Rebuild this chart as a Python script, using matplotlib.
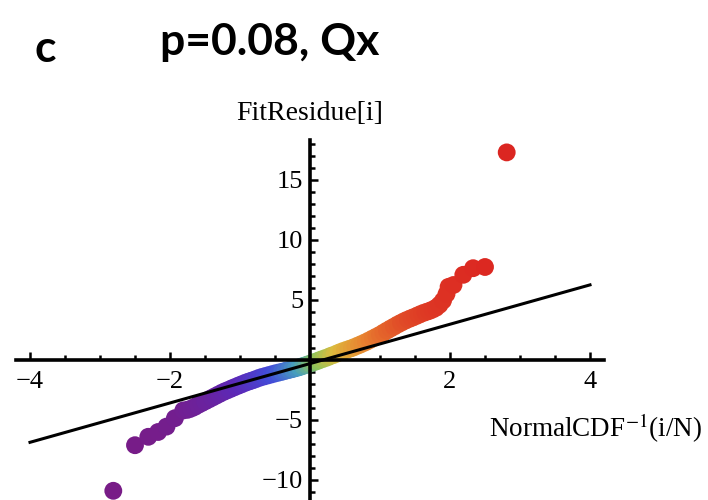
import math
import matplotlib
matplotlib.use("Agg")
import matplotlib.pyplot as plt
from matplotlib.colors import LinearSegmentedColormap
from matplotlib.ticker import FixedLocator, MultipleLocator

# theoretical normal quantiles vs. sorted fit residues
q_theory = [
    -2.81, -2.50, -2.31, -2.17, -2.05, -1.93, -1.81,
    -1.75, -1.70, -1.65, -1.60, -1.55, -1.50, -1.45, -1.40, -1.35, -1.30,
    -1.25, -1.20, -1.15, -1.10, -1.05, -1.00, -0.95, -0.90, -0.85, -0.80,
    -0.75, -0.70, -0.65, -0.60, -0.55, -0.50, -0.45, -0.40, -0.35, -0.30,
    -0.25, -0.20, -0.15, -0.10, -0.05, 0.00, 0.05, 0.10, 0.15, 0.20,
    0.25, 0.30, 0.35, 0.40, 0.45, 0.50, 0.55, 0.60, 0.65, 0.70,
    0.75, 0.80, 0.85, 0.90, 0.95, 1.00, 1.05, 1.10, 1.15, 1.20,
    1.25, 1.30, 1.35, 1.40, 1.45, 1.50, 1.55, 1.60, 1.65, 1.70,
    1.75, 1.80, 1.85,
    1.90, 1.95, 1.98, 2.05, 2.19, 2.33, 2.50, 2.81,
]
residue = [
    -10.9, -7.1, -6.4, -6.0, -5.55, -4.85, -4.2,
    -4.15, -4.05, -3.92, -3.75, -3.60, -3.45, -3.30, -3.15, -3.00, -2.85,
    -2.70, -2.57, -2.45, -2.32, -2.20, -2.08, -1.96, -1.85, -1.75, -1.65,
    -1.54, -1.44, -1.36, -1.28, -1.20, -1.12, -1.05, -0.98, -0.90, -0.83,
    -0.76, -0.68, -0.60, -0.50, -0.40, -0.30, -0.20, -0.10, 0.02, 0.12,
    0.22, 0.35, 0.45, 0.58, 0.70, 0.80, 0.90, 1.00, 1.12, 1.24,
    1.37, 1.50, 1.65, 1.80, 1.95, 2.10, 2.28, 2.45, 2.62, 2.78,
    2.95, 3.10, 3.25, 3.38, 3.50, 3.62, 3.75, 3.88, 3.98, 4.08,
    4.20, 4.35, 4.60,
    4.95, 5.50, 6.10, 6.25, 7.10, 7.65, 7.75, 17.3,
]

# reference line
fit_x = [-4.0, 4.0]
fit_y = [-6.86, 6.26]

x_major = [-4, -2, 2, 4]
y_major = [-10, -5, 5, 10, 15]

W, H = 708, 500
serif = "Liberation Serif"
plt.rcParams["mathtext.fontset"] = "stix"

rainbow = LinearSegmentedColormap.from_list("rainbow_mma", [
    (0.00, (0.47, 0.11, 0.53)),
    (0.15, (0.36, 0.16, 0.72)),
    (0.30, (0.26, 0.30, 0.85)),
    (0.44, (0.28, 0.62, 0.74)),
    (0.54, (0.55, 0.77, 0.36)),
    (0.66, (0.87, 0.73, 0.24)),
    (0.80, (0.91, 0.51, 0.19)),
    (1.00, (0.86, 0.15, 0.13)),
])
# colour by quantile rank i/N
rank = [0.5 * (1 + math.erf(q / math.sqrt(2))) for q in q_theory]

fig = plt.figure(figsize=(W / 100, H / 100), dpi=100)
ax = fig.add_axes([16 / W, 0, 588 / W, 360 / H])
ax.set_xlim(-4.2, 4.2)
ax.set_ylim(-140 / 12, 220 / 12)

ax.scatter(q_theory, residue, c=rank, cmap=rainbow, vmin=0, vmax=1,
           s=165, linewidths=0, zorder=2, clip_on=False)
ax.plot(fit_x, fit_y, color="black", lw=2.2, zorder=3)

for side in ["top", "right"]:
    ax.spines[side].set_visible(False)
for side in ["left", "bottom"]:
    ax.spines[side].set_position(("data", 0))
    ax.spines[side].set_linewidth(2.6)
    ax.spines[side].set_zorder(4)

ax.xaxis.set_major_locator(FixedLocator(x_major))
ax.xaxis.set_minor_locator(MultipleLocator(0.5))
ax.yaxis.set_major_locator(FixedLocator(y_major))
ax.yaxis.set_minor_locator(MultipleLocator(1))
ax.tick_params(which="both", direction="in", width=1.8, labelsize=19)
ax.tick_params(which="major", length=6)
ax.tick_params(axis="x", which="major", pad=8)
ax.tick_params(axis="y", which="major", pad=5)
ax.tick_params(which="minor", length=3.5)
for lab in ax.get_xticklabels() + ax.get_yticklabels():
    lab.set_fontfamily(serif)

fig.text(310 / W, 1 - 120 / H, "FitResidue[i]", family=serif, fontsize=20,
         ha="center", va="baseline")
fig.text(702 / W, 1 - 437 / H, r"NormalCDF$^{-1}$(i/N)", family=serif,
         fontsize=19.5, ha="right", va="baseline")

fig.text(160 / W, 1 - 55 / H, "p=0.08, Qx", family="Lato", weight="bold",
         fontsize=32, ha="left", va="baseline")
fig.text(35 / W, 1 - 62 / H, "c", family="Lato", weight="bold",
         fontsize=32, ha="left", va="baseline")

fig.savefig("out.png", dpi=100)
